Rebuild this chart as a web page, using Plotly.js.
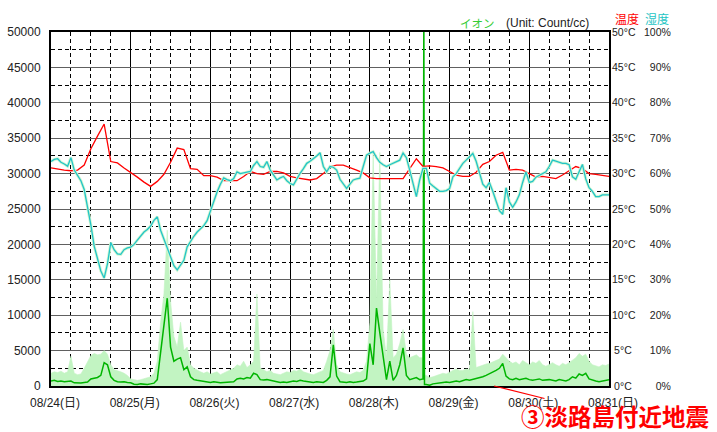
<!DOCTYPE html>
<html>
<head>
<meta charset="utf-8">
<script src="https://cdn.plot.ly/plotly-3.0.1.min.js"></script>
<style>
  html, body { margin: 0; padding: 0; background: #fff; }
  #chart { width: 717px; height: 432px; }
</style>
</head>
<body>
<div id="chart"></div>
<script>
// ---- Day labels (x axis, hours since 08/24 00:00) ----
const dayHours = [0, 24, 48, 72, 96, 120, 144, 168];
const dayLabels = ["08/24(日)", "08/25(月)", "08/26(火)", "08/27(水)", "08/28(木)", "08/29(金)", "08/30(土)", "08/31(日)"];

// ---- Left axis (ion count) ----
const ionTickVals = [0, 5000, 10000, 15000, 20000, 25000, 30000, 35000, 40000, 45000, 50000];
const ionTickText = ["0", "5000", "10000", "15000", "20000", "25000", "30000", "35000", "40000", "45000", "50000"];

// ---- Right axes (temperature / humidity) ----
const tempTickVals = [0, 5, 10, 15, 20, 25, 30, 35, 40, 45, 50];
const tempTickText = ["\u20090°C", "\u20095°C", "10°C", "15°C", "20°C", "25°C", "30°C", "35°C", "40°C", "45°C", "50°C"];
const humTickVals = [0, 10, 20, 30, 40, 50, 60, 70, 80, 90, 100];
const humTickText = ["\u2007\u20070%", "\u200710%", "\u200720%", "\u200730%", "\u200740%", "\u200750%", "\u200760%", "\u200770%", "\u200780%", "\u200790%", "100%"];

// ---- Temperature (°C), every 2 hours from 08/24 00:00 ----
const tempStepHours = 2;
const temperature = [
  30.8, 30.6, 30.5, 30.4, 30.5, 31.2, 33.5, 35.3, 37.0, 31.7, 31.5, 30.8,
  30.2, 29.5, 28.8, 28.2, 28.9, 29.9, 31.6, 33.6, 33.4, 30.7, 30.6, 29.7,
  29.7, 29.5, 29.0, 29.0, 29.0, 29.6, 30.3, 30.0, 29.9, 30.3, 30.3, 30.1,
  29.6, 29.4, 29.2, 29.1, 29.3, 30.0, 31.0, 31.2, 31.2, 30.9, 30.5, 30.1,
  29.4, 29.3, 29.3, 29.2, 29.2, 29.3, 30.7, 32.1, 31.0, 31.1, 31.0, 30.8,
  30.3, 29.8, 29.6, 29.6, 30.2, 31.3, 31.7, 32.6, 33.0, 30.5, 30.6, 30.5,
  30.0, 29.5, 29.6, 29.4, 29.3, 29.8, 30.4, 31.0, 30.7, 30.0, 29.9, 29.8,
  29.6
];

// ---- Humidity (%), hourly from 08/24 00:00 ----
const humidity = [
  63.4, 64.0, 64.2, 63.2, 62.7, 62.1, 64.5, 61.0, 59.5, 58.0,
  55.5, 51.0, 45.5, 39.5, 36.0, 32.5, 30.5, 34.5, 40.5, 38.5,
  37.3, 37.2, 38.5, 39.0, 39.2, 40.0, 41.2, 42.4, 43.5, 44.2,
  45.2, 46.8, 47.8, 44.0, 41.5, 39.0, 36.5, 34.0, 32.8, 34.0,
  35.5, 39.3, 41.0, 42.3, 43.5, 44.5, 45.3, 46.7, 49.5, 52.5,
  54.8, 57.0, 58.8, 58.3, 58.0, 58.6, 60.5, 60.0, 60.3, 60.4,
  60.6, 62.3, 63.4, 62.0, 61.8, 63.4, 61.0, 59.5, 58.2, 58.8,
  59.2, 58.0, 57.2, 56.8, 58.5, 60.1, 61.4, 62.9, 63.5, 64.2,
  65.0, 65.9, 62.0, 60.5, 62.0, 61.8, 61.0, 58.4, 57.0, 55.8,
  57.0, 58.2, 58.5, 58.7, 62.0, 65.2, 65.8, 66.2, 64.5, 63.2,
  62.5, 62.0, 62.5, 62.9, 63.4, 63.8, 65.8, 64.5, 61.0, 57.3,
  53.5, 58.2, 61.5, 61.5, 57.3, 56.5, 55.8, 55.0, 55.0, 55.2,
  55.8, 59.1, 60.0, 61.5, 62.9, 63.8, 64.8, 65.7, 63.5, 60.5,
  57.0, 56.0, 57.5, 55.0, 52.5, 49.5, 48.5, 56.0, 52.0, 50.5,
  52.0, 54.0, 57.5, 60.5, 57.5, 57.8, 59.0, 59.5, 60.0, 60.5,
  62.0, 63.8, 63.5, 63.2, 62.9, 62.9, 62.5, 59.1, 58.4, 60.5,
  62.6, 58.5, 56.0, 55.0, 53.5, 53.5, 54.0, 54.0, 54.0
];

// ---- Ion count (count/cc), hourly: average and maximum ----
const ionAvg = [
  700, 800, 650, 700, 600, 650, 700, 450, 400, 420,
  500, 550, 1000, 1100, 1200, 1500, 3300, 3000, 1300, 800,
  600, 550, 600, 500, 450, 250, 200, 300, 250, 200,
  300, 400, 900, 4700, 8000, 12400, 5500, 3500, 3800, 4000,
  2300, 2700, 1300, 900, 800, 700, 600, 550, 500, 600,
  500, 450, 500, 500, 550, 600, 1000, 1100, 1000, 1200,
  1100, 1800, 1600, 900, 850, 900, 800, 700, 600, 500,
  550, 500, 600, 700, 650, 800, 700, 600, 500, 500,
  600, 550, 500, 800, 1300, 5800, 1400, 600, 550, 500,
  600, 500, 550, 600, 700, 1000, 6000, 3000, 11000, 7500,
  4100, 900, 3500, 800, 1500, 3000, 5400, 1500, 900, 1000,
  1200, 900, 1000, 200, 100, 300, 400, 450, 500, 550,
  500, 600, 700, 600, 800, 900, 800, 900, 1000, 1200,
  1300, 1500, 1700, 1900, 2200, 2500, 3200, 1400, 1000, 900,
  1100, 900, 1000, 1100, 900, 800, 900, 1000, 800, 900,
  900, 800, 700, 900, 800, 700, 900, 1300, 1100, 1700,
  1500, 1800, 1000, 800, 700, 600, 700, 800, 900
];
const ionMax = [
  1800, 2000, 1900, 2100, 1800, 2000, 4200, 1800, 1600, 1700,
  2500, 3500, 4300, 4600, 4400, 4500, 5000, 4500, 3000, 2300,
  2200, 2000, 1800, 1500, 1000, 900, 800, 900, 1000, 1100,
  1300, 1800, 3500, 9000, 13000, 22000, 12000, 7000, 5500, 9000,
  5000, 5500, 3000, 2500, 2200, 2000, 1800, 2000, 1700, 1800,
  2000, 1600, 1800, 2000, 2300, 2500, 3000, 2800, 3500, 2600,
  3000, 3500, 13000, 2500, 2300, 2000, 2200, 1800, 1700, 1600,
  1800, 2000, 1900, 2200, 2100, 2400, 2000, 1800, 1700, 1600,
  1800, 1900, 2200, 3500, 5000, 8000, 3000, 2000, 1800, 1700,
  1600, 1800, 2000, 1900, 2200, 3500, 9000, 33000, 12000, 33000,
  8000, 4000, 15000, 4000, 4500, 6000, 8000, 4500, 4000, 4200,
  4400, 4000, 4000, 1500, 1200, 1300, 1500, 1600, 1800, 1700,
  2000, 2200, 2400, 2200, 2200, 2400, 2300, 10500, 2600, 2800,
  3000, 3100, 3200, 3400, 3600, 3800, 4500, 4000, 3500, 3200,
  3400, 3000, 3600, 3300, 3000, 3400, 3200, 3600, 3000, 2800,
  3000, 3300, 3000, 2800, 3200, 3000, 3300, 3600, 4000, 4600,
  4200, 4500, 3500, 3000, 2800, 2700, 3000, 2900, 3100
];
// Short off-scale ion burst on 08/28 evening (read between hourly samples)
const ionBurstHours = [112.25, 112.45];
const ionBurstAvg = [52000, 200];
const ionBurstMax = [52000, 1500];

// ---- Annotation ----
const eventLabel = "③淡路島付近地震";
const eventHour = 133.4;

// ---------- build series ----------
const tempHours = temperature.map((_, i) => i * tempStepHours);
const humHours = humidity.map((_, i) => i);

const ionPts = ionAvg.map((v, i) => ({ h: i, a: v, m: ionMax[i] }));
ionBurstHours.forEach((h, i) => ionPts.push({ h: h, a: ionBurstAvg[i], m: ionBurstMax[i] }));
ionPts.sort((p, q) => p.h - q.h);
const ionHours = ionPts.map(p => p.h);
const ionAvgS = ionPts.map(p => p.a);
const ionMaxS = ionPts.map(p => p.m);

const FONT = "'Liberation Sans', Arial, 'Noto Sans CJK JP', sans-serif";
const CJK = "'Noto Sans CJK JP', 'Liberation Sans', sans-serif";

const traces = [
  { x: ionHours, y: ionMaxS, type: 'scatter', mode: 'lines', fill: 'tozeroy',
    fillcolor: '#c2f4c2', line: { color: '#c2f4c2', width: 0.6 }, yaxis: 'y', hoverinfo: 'skip' },
  { x: humHours, y: humidity, type: 'scatter', mode: 'lines',
    line: { color: '#d2f7d2', width: 3 }, yaxis: 'y3', hoverinfo: 'skip' },
  { x: humHours, y: humidity, type: 'scatter', mode: 'lines',
    line: { color: '#22c4c8', width: 1.3 }, yaxis: 'y3' },
  { x: tempHours, y: temperature, type: 'scatter', mode: 'lines',
    line: { color: '#ff0000', width: 1.3 }, yaxis: 'y2' },
  { x: ionHours, y: ionAvgS, type: 'scatter', mode: 'lines',
    line: { color: '#00b400', width: 1.5 }, yaxis: 'y' }
];

const px = v => (v - 51) / 558;      // pixel x -> paper x
const py = v => (386 - v) / 354;     // pixel y -> paper y

const layout = {
  width: 717, height: 432,
  margin: { l: 51, r: 108, t: 32, b: 46 },
  paper_bgcolor: '#ffffff', plot_bgcolor: '#ffffff',
  showlegend: false,
  font: { family: FONT, size: 12, color: '#222' },
  xaxis: {
    range: [0, 168], tickvals: dayHours, ticktext: dayLabels,
    showgrid: true, gridcolor: '#000', gridwidth: 1,
    minor: { dtick: 6, tick0: 0, showgrid: true, gridcolor: '#000', griddash: '4px,3px', gridwidth: 1 },
    showline: true, linecolor: '#000', linewidth: 2, mirror: true,
    ticks: '', zeroline: false, ticklabelshift: 4, ticklabelstandoff: 5,
    tickfont: { family: FONT, size: 12, color: '#222' }
  },
  yaxis: {
    range: [0, 50000], tickvals: ionTickVals, ticktext: ionTickText,
    showgrid: true, gridcolor: '#606060', gridwidth: 1,
    minor: { dtick: 2500, tick0: 0, showgrid: true, gridcolor: '#000', griddash: '4px,3px', gridwidth: 1 },
    showline: true, linecolor: '#000', linewidth: 2, mirror: true,
    ticks: '', zeroline: false, ticklabelstandoff: 6,
    tickfont: { family: FONT, size: 12, color: '#222' }
  },
  yaxis2: {
    overlaying: 'y', side: 'right', anchor: 'x', range: [0, 50],
    tickvals: tempTickVals, ticktext: tempTickText,
    showgrid: false, zeroline: false, showline: false, ticks: '',
    ticklabelstandoff: 2,
    tickfont: { family: FONT, size: 10.5, color: '#222' }
  },
  yaxis3: {
    overlaying: 'y', side: 'right', anchor: 'x', range: [0, 100],
    tickvals: humTickVals, ticktext: humTickText,
    showgrid: false, zeroline: false, showline: false, ticks: '',
    ticklabelstandoff: 34,
    tickfont: { family: FONT, size: 10.5, color: '#222' }
  },
  annotations: [
    { text: 'イオン', xref: 'paper', yref: 'paper', x: px(458), y: py(23), xanchor: 'left', yanchor: 'middle',
      showarrow: false, font: { family: CJK, size: 11.5, color: '#33cc33' } },
    { text: '(Unit: Count/cc)', xref: 'paper', yref: 'paper', x: px(504), y: py(23), xanchor: 'left', yanchor: 'middle',
      showarrow: false, font: { family: FONT, size: 12, color: '#222' } },
    { text: '温度', xref: 'paper', yref: 'paper', x: px(613), y: py(19), xanchor: 'left', yanchor: 'middle',
      showarrow: false, font: { family: CJK, size: 12, color: '#ff0000' } },
    { text: '湿度', xref: 'paper', yref: 'paper', x: px(643), y: py(19), xanchor: 'left', yanchor: 'middle',
      showarrow: false, font: { family: CJK, size: 12, color: '#1cc4c4' } },
    { text: eventLabel, xref: 'x', yref: 'y', x: eventHour, y: 0,
      showarrow: true, arrowhead: 0, arrowcolor: '#ff0000', arrowwidth: 1.2,
      xanchor: 'center', yanchor: 'middle', borderpad: 0,
      ax: 121, ay: 30, font: { family: CJK, size: 23.5, color: '#ff0000', weight: 'bold' } }
  ]
};

Plotly.newPlot('chart', traces, layout, { displayModeBar: false, staticPlot: true });
</script>
</body>
</html>
